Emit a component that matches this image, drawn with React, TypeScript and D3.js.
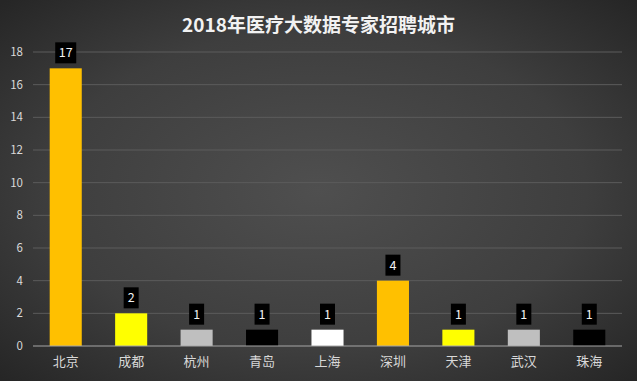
import React from "react";
import * as d3 from "d3";

const categories = ["北京", "成都", "杭州", "青岛", "上海", "深圳", "天津", "武汉", "珠海"];
const values = [17, 2, 1, 1, 1, 4, 1, 1, 1];
const colors = ["#FFC000", "#FFFF00", "#BFBFBF", "#000000", "#FFFFFF", "#FFC000", "#FFFF00", "#BFBFBF", "#000000"];
const yTicks = [0, 2, 4, 6, 8, 10, 12, 14, 16, 18];
const title = "2018年医疗大数据专家招聘城市";

const W = 637, H = 381;
const left = 33, right = 622, top = 52, bottom = 346;
const font = "'Noto Sans CJK SC', 'Noto Sans', sans-serif";

export default function App() {
  const x = d3.scaleBand<string>().domain(categories).range([left, right]).paddingInner(0.51).paddingOuter(0.255);
  const y = d3.scaleLinear().domain([0, 18]).range([bottom, top]);
  return (
    <svg width={W} height={H} style={{ position: "absolute", left: 0, top: 0, display: "block" }}>
      <defs>
        <radialGradient id="bg" cx="50%" cy="50%" r="70%">
          <stop offset="0%" stopColor="#4f4f4f" />
          <stop offset="60%" stopColor="#3e3e3e" />
          <stop offset="100%" stopColor="#262626" />
        </radialGradient>
      </defs>
      <rect width={W} height={H} fill="url(#bg)" />
      <text x={W / 2} y={32} textAnchor="middle" fill="#f2f2f2" fontFamily={font} fontWeight="bold" fontSize={19}>{title}</text>
      {yTicks.map((t) => (
        <g key={t}>
          {t > 0 && <line x1={left} x2={right} y1={y(t)} y2={y(t)} stroke="#5c5c5c" strokeWidth={1} />}
          <text x={23} y={y(t) + 4} textAnchor="end" fill="#d9d9d9" fontFamily={font} fontSize={11.5}>{t}</text>
        </g>
      ))}
      {categories.map((c, i) => {
        const bx = x(c)!;
        const bw = x.bandwidth();
        const cx = bx + bw / 2;
        const label = String(values[i]);
        const boxW = label.length > 1 ? 21 : 15;
        const boxH = 21;
        const by = y(values[i]) - 5 - boxH;
        return (
          <g key={c}>
            <rect x={bx} y={y(values[i])} width={bw} height={bottom - y(values[i])} fill={colors[i]} />
            <rect x={cx - boxW / 2} y={by} width={boxW} height={boxH} fill="#000" />
            <text x={cx} y={by + 15} textAnchor="middle" fill="#f2f2f2" fontFamily={font} fontSize={12.5}>{label}</text>
            <text x={cx} y={366} textAnchor="middle" fill="#d9d9d9" fontFamily={font} fontSize={13}>{c}</text>
          </g>
        );
      })}
      <line x1={left} x2={right} y1={bottom} y2={bottom} stroke="#a6a6a6" strokeWidth={1} />
    </svg>
  );
}
